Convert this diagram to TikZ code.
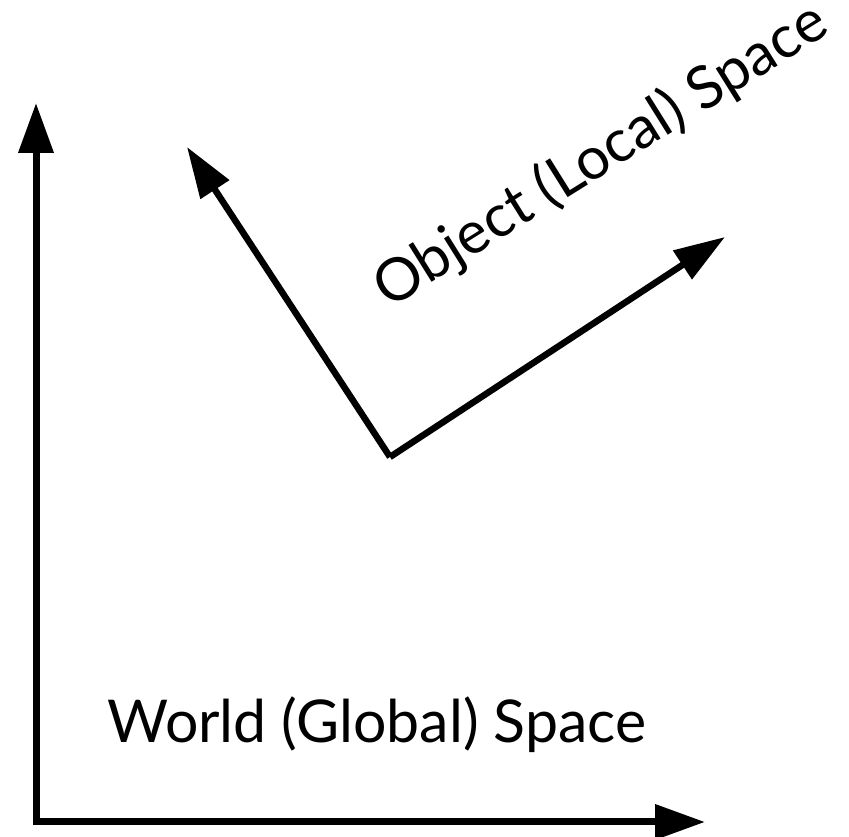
\documentclass[tikz,border=0pt]{standalone}
\usepackage{fontspec}
\setmainfont{Lato}
\usetikzlibrary{arrows.meta}
\begin{document}
\begin{tikzpicture}[x=1pt,y=1pt,
  axis/.style={line width=7pt,-{Triangle[length=50pt,width=34pt]}},
  objaxis/.style={line width=6.5pt,-{Triangle[length=51pt,width=33pt]}},
  lbl/.style={font=\fontsize{59}{70}\selectfont, inner sep=0pt}]
\useasboundingbox (0,0) rectangle (849,837);
\coordinate (O) at (36,15);
\coordinate (Ytip) at (36,734);
\coordinate (Xtip) at (705,15);
\draw[axis,line cap=rect] (O) -- (Ytip);
\draw[axis] (O) -- (Xtip);
\coordinate (L) at (390,380);
\coordinate (Ltip1) at (187,690);
\coordinate (Ltip2) at (725,600);
\draw[objaxis] (L) -- (Ltip1);
\draw[objaxis] (L) -- (Ltip2);
\node[lbl,anchor=base west] (world) at (107,94) {World (Global) Space};
\node[lbl,rotate=32] (object) at (601,681) {Object (Local) Space};
\end{tikzpicture}
\end{document}
